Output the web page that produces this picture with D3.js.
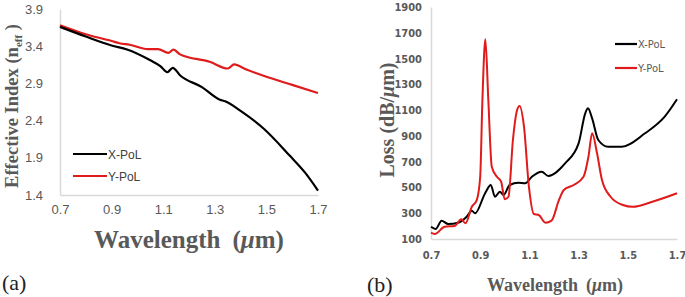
<!DOCTYPE html>
<html>
<head>
<meta charset="utf-8">
<script src="https://cdn.jsdelivr.net/npm/d3@7"></script>
<style>
  html, body { margin: 0; padding: 0; background: #fff; }
  svg { display: block; }
</style>
</head>
<body>
<div id="chart"></div>
<script>
// ---- data: panel (a) effective index ----
const idxXPolWl = [0.70, 0.80, 0.90, 0.96, 1.05, 1.09, 1.116, 1.137, 1.165, 1.25, 1.32, 1.34, 1.40, 1.49, 1.59, 1.65, 1.70];
const idxXPolN  = [3.66, 3.53, 3.41, 3.355, 3.21, 3.13, 3.05, 3.11, 3.01, 2.85, 2.68, 2.66, 2.53, 2.29, 1.93, 1.70, 1.46];
const idxYPolWl = [0.70, 0.80, 0.90, 0.93, 0.97, 1.04, 1.08, 1.12, 1.14, 1.165, 1.28, 1.35, 1.375, 1.42, 1.50, 1.60, 1.70];
const idxYPolN  = [3.68, 3.56, 3.47, 3.44, 3.42, 3.36, 3.36, 3.31, 3.355, 3.29, 3.19, 3.10, 3.155, 3.09, 2.99, 2.88, 2.77];

// ---- data: panel (b) loss ----
const lossXPolWl = [0.70, 0.719, 0.743, 0.77, 0.81, 0.845, 0.866, 0.879, 0.92, 0.943, 0.96, 0.98, 0.995, 1.02, 1.055, 1.083, 1.11, 1.15, 1.177, 1.245, 1.30, 1.327, 1.338, 1.355, 1.38, 1.42, 1.475, 1.57, 1.65, 1.70];
const lossXPol   = [195, 178, 242, 216, 226, 273, 320, 299, 455, 519, 428, 467, 441, 519, 537, 532, 583, 622, 589, 687, 842, 1075, 1114, 1036, 868, 816, 816, 920, 1049, 1184];
const lossYPolWl = [0.70, 0.715, 0.756, 0.796, 0.823, 0.84, 0.866, 0.886, 0.90, 0.909, 0.921, 0.933, 0.947, 0.968, 0.985, 1.00, 1.015, 1.033, 1.05, 1.06, 1.078, 1.098, 1.118, 1.138, 1.165, 1.19, 1.22, 1.24, 1.28, 1.32, 1.34, 1.355, 1.375, 1.395, 1.43, 1.48, 1.52, 1.60, 1.70];
const lossYPol   = [149, 139, 195, 201, 253, 222, 350, 402, 583, 1178, 1649, 1178, 661, 583, 545, 408, 428, 868, 1101, 1132, 971, 506, 294, 286, 226, 242, 402, 480, 519, 583, 738, 920, 765, 558, 428, 364, 350, 389, 455];

// ---- ticks ----
const wlTicks = [0.7, 0.9, 1.1, 1.3, 1.5, 1.7];
const idxTicks = [1.4, 1.9, 2.4, 2.9, 3.4, 3.9];
const lossTicks = [100, 300, 500, 700, 900, 1100, 1300, 1500, 1700, 1900];
const seriesNames = ["X-PoL", "Y-PoL"];

const W = 685, H = 297;
const black = "#000000", red = "#e01b1b";
const axisGray = "#d9d9d9", textGray = "#595959";
const serif = "'Liberation Serif', 'DejaVu Serif', serif";
const narrow = "'DejaVu Sans Condensed', 'Liberation Sans Narrow', 'Liberation Sans', sans-serif";

const svg = d3.select("#chart").append("svg")
  .attr("width", W).attr("height", H);

const zip = (xs, ys) => xs.map((x, i) => ({ x, y: ys[i] }));

// -----------------------------
// Panel (a)
// -----------------------------
const xa = d3.scaleLinear().domain([0.7, 1.7]).range([60, 318]);
const ya = d3.scaleLinear().domain([1.4, 3.9]).range([195, 9]);
const ga = svg.append("g");

const axA = ga.append("g").attr("transform", `translate(0,${ya(1.4)})`)
  .call(d3.axisBottom(xa).tickValues(wlTicks).tickSize(0).tickPadding(10).tickFormat(d3.format(".1f")));
const ayA = ga.append("g").attr("transform", `translate(${xa(0.7)},0)`)
  .call(d3.axisLeft(ya).tickValues(idxTicks).tickSize(0).tickPadding(17).tickFormat(d3.format(".1f")));
[axA, ayA].forEach(a => {
  a.select(".domain").attr("stroke", axisGray).attr("stroke-width", 1.5);
  a.selectAll("text").attr("fill", textGray)
    .style("font-family", "'Liberation Sans', Arial, sans-serif").style("font-size", "13px");
});

const lineA = d3.line().x(d => xa(d.x)).y(d => ya(d.y)).curve(d3.curveMonotoneX);
ga.append("path").datum(zip(idxYPolWl, idxYPolN))
  .attr("fill", "none").attr("stroke", red).attr("stroke-width", 2.2).attr("d", lineA);
ga.append("path").datum(zip(idxXPolWl, idxXPolN))
  .attr("fill", "none").attr("stroke", black).attr("stroke-width", 2.2).attr("d", lineA);

// legend a
seriesNames.forEach((name, i) => {
  const ly = 154 + i * 22;
  ga.append("line").attr("x1", 73).attr("x2", 107).attr("y1", ly).attr("y2", ly)
    .attr("stroke", i ? red : black).attr("stroke-width", 2.2);
  ga.append("text").attr("x", 108).attr("y", ly + 4.5)
    .attr("fill", "#404040")
    .style("font-family", "'Liberation Sans', Arial, sans-serif").style("font-size", "12px")
    .text(name);
});

// titles a
const xtA = ga.append("text").attr("x", 189).attr("y", 248).attr("text-anchor", "middle")
  .attr("fill", textGray).style("font-family", serif).style("font-weight", "bold").style("font-size", "25px");
xtA.append("tspan").text("Wavelength");
xtA.append("tspan").attr("dx", 12).text("(");
xtA.append("tspan").style("font-style", "italic").text("μ");
xtA.append("tspan").text("m)");

const ytA = ga.append("text").attr("transform", "translate(18,106) rotate(-90)").attr("text-anchor", "middle")
  .attr("fill", textGray).style("font-family", serif).style("font-weight", "bold").style("font-size", "18.5px");
ytA.append("tspan").text("Effective Index (n");
ytA.append("tspan").attr("dy", 4).style("font-size", "11px").text("eff");
ytA.append("tspan").attr("dy", -4).text(" )");

svg.append("text").attr("x", 2).attr("y", 290)
  .style("font-family", serif).style("font-size", "22px").attr("fill", "#222").text("(a)");

// -----------------------------
// Panel (b)
// -----------------------------
const xb = d3.scaleLinear().domain([0.7, 1.7]).range([431, 677]);
const yb = d3.scaleLinear().domain([100, 1900]).range([239, 7]);
const gb = svg.append("g");

const axB = gb.append("g").attr("transform", `translate(0,${yb(100)})`)
  .call(d3.axisBottom(xb).tickValues(wlTicks).tickSize(0).tickPadding(12).tickFormat(d3.format(".1f")));
const ayB = gb.append("g").attr("transform", `translate(${xb(0.7)},0)`)
  .call(d3.axisLeft(yb).tickValues(lossTicks).tickSize(0).tickPadding(9).tickFormat(d3.format("d")));
[axB, ayB].forEach(a => {
  a.select(".domain").attr("stroke", axisGray).attr("stroke-width", 1.5);
  a.selectAll("text").attr("fill", textGray)
    .style("font-family", narrow)
    .style("font-weight", "bold").style("font-size", "11px");
});

const lineB = d3.line().x(d => xb(d.x)).y(d => yb(d.y)).curve(d3.curveMonotoneX);
gb.append("path").datum(zip(lossXPolWl, lossXPol))
  .attr("fill", "none").attr("stroke", black).attr("stroke-width", 2).attr("d", lineB);
gb.append("path").datum(zip(lossYPolWl, lossYPol))
  .attr("fill", "none").attr("stroke", red).attr("stroke-width", 2).attr("d", lineB);

// legend b
seriesNames.forEach((name, i) => {
  const ly = 44 + i * 24;
  gb.append("line").attr("x1", 615).attr("x2", 637).attr("y1", ly).attr("y2", ly)
    .attr("stroke", i ? red : black).attr("stroke-width", 2.2);
  gb.append("text").attr("x", 638).attr("y", ly + 4)
    .attr("fill", textGray)
    .style("font-family", narrow).style("font-size", "11px")
    .text(name);
});

// titles b
const xtB = gb.append("text").attr("x", 555).attr("y", 291).attr("text-anchor", "middle")
  .attr("fill", textGray).style("font-family", serif).style("font-weight", "bold").style("font-size", "18px");
xtB.append("tspan").text("Wavelength");
xtB.append("tspan").attr("dx", 8).text("(");
xtB.append("tspan").style("font-style", "italic").text("μ");
xtB.append("tspan").text("m)");

const ytB = gb.append("text").attr("transform", "translate(394,120) rotate(-90)").attr("text-anchor", "middle")
  .attr("fill", textGray).style("font-family", serif).style("font-weight", "bold").style("font-size", "20px");
ytB.append("tspan").text("Loss (dB/");
ytB.append("tspan").style("font-style", "italic").text("μ");
ytB.append("tspan").text("m)");

svg.append("text").attr("x", 367).attr("y", 292)
  .style("font-family", serif).style("font-size", "22px").attr("fill", "#222").text("(b)");
</script>
</body>
</html>
